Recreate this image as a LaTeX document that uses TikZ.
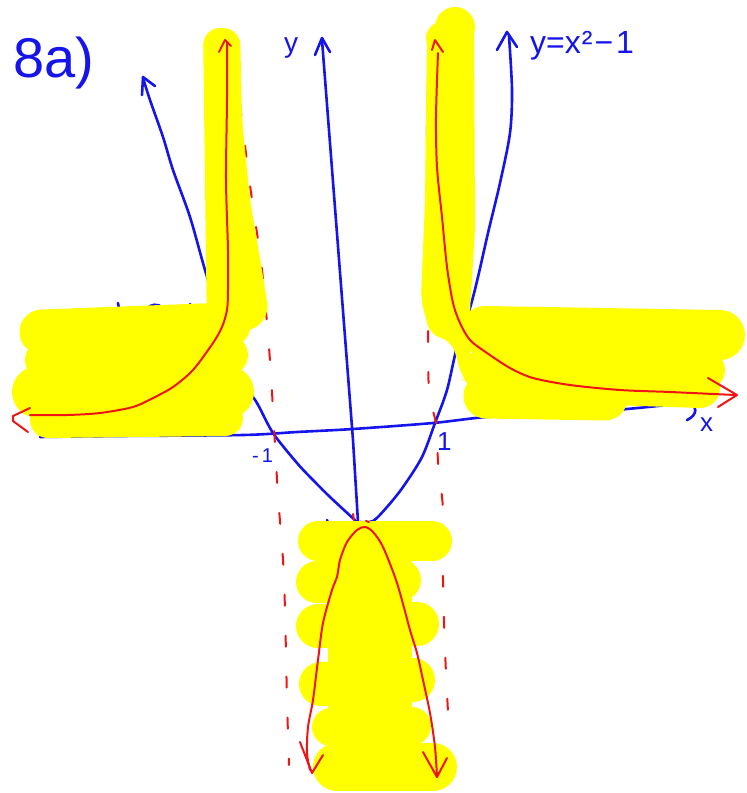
\documentclass[tikz,border=0pt]{standalone}
\usepackage{fontspec}
\setmainfont{Liberation Sans}
\definecolor{penblue}{RGB}{20,20,235}
\definecolor{penred}{RGB}{240,20,20}
\definecolor{hlyellow}{RGB}{255,255,0}
\tikzset{
  blueline/.style={draw=penblue, line width=2.6pt, line cap=round, line join=round},
  redline/.style={draw=penred, line width=2pt, line cap=round, line join=round},
  reddash/.style={redline, dash pattern=on 11pt off 30pt},
  hl/.style={draw=hlyellow, line cap=round, line join=round},
  hlfill/.style={fill=hlyellow},
  bluetext/.style={text=penblue, inner sep=0pt, anchor=base west}
}
\begin{document}
\begin{tikzpicture}[x=1pt,y=-1pt]
\useasboundingbox (0,0) rectangle (747,793);
\fill[white] (0,0) rectangle (747,793);

% ---------- blue: axes and parabola ----------
% left branch of y = x^2 - 1
\draw[blueline] plot[smooth] coordinates {(143,78) (150,100) (163,137) (173,170) (190,217) (205,270) (222,325) (240,377) (257,403) (273,433) (297,463) (313,480) (330,497) (357,522)};
\draw[blueline] (142,95) -- (143,77) -- (155,86);
% right branch
\draw[blueline] plot[smooth] coordinates {(360,522) (373,521) (387,507) (403,487) (422,457) (435,423) (447,390) (457,347) (470,308) (478,277) (488,233) (500,183) (510,133) (512,90) (509,36)};
\draw[blueline] (497,50) -- (507,32) -- (517,47);
% y axis
\draw[blueline] (322,40) -- (353,440) -- (358,522);
\draw[blueline] (315,55) -- (322,38) -- (330,52);
% x axis
\draw[blueline] plot[smooth] coordinates {(40,437) (120,436) (243,435) (297,432) (353,429) (433,423) (487,417) (553,415) (627,409) (687,403)};
\draw[blueline] (687,403) .. controls (698,405) and (698,415) .. (687,420);
% small blue marks above the left block
\draw[blueline] (118,303) -- (119,309);
\draw[blueline] (147,309) .. controls (150,304) and (158,303) .. (163,308);
\draw[blueline] (190,304) -- (192,310);
\draw[blueline] (327,520) -- (328,523);

% ---------- red dashed asymptotes ----------
\draw[reddash] plot[smooth] coordinates {(240,105) (250,185) (262,270) (270,360) (273,410) (278,495) (283,560) (285,610) (287,700) (289,765)};
\draw[reddash] plot[smooth] coordinates {(428,85) (427,125) (427,170) (428,250) (428,320) (429,390) (437,428) (438,462) (443,510) (443,580) (445,650) (448,712)};

% ---------- yellow highlighter ----------
% left vertical
\fill[hlfill, rounded corners=17pt] (203,28) -- (240,28) -- (242,120) -- (250,200) -- (262,270) -- (270,320) -- (240,335) -- (207,335) -- cycle;
% left horizontal block
\fill[hlfill] (40,318) rectangle (240,430);
\draw[hl, line width=45pt] (42,332) -- (228,325);
\draw[hl, line width=40pt] (45,360) -- (228,355);
\draw[hl, line width=52pt] (38,392) -- (228,392);
\draw[hl, line width=36pt] (48,420) -- (225,418);
% right vertical
\fill[hlfill] (455,27) circle (20);
\fill[hlfill] (442,38) circle (16);
\fill[hlfill, rounded corners=10pt] (427,35) -- (474,25) -- (475,230) -- (470,310) -- (470,380) -- (463,380) -- (452,342) -- (430,334) -- (421,300) -- (425,200) -- cycle;
% right horizontal block
\fill[hlfill] (480,320) rectangle (700,400);
\draw[hl, line width=50pt] (485,331) -- (720,335);
\draw[hl, line width=40pt] (482,370) -- (705,370);
\draw[hl, line width=45pt] (486,396) -- (605,398);
\draw[hl, line width=40pt] (612,385) -- (700,388);
% bottom block
\fill[hlfill] (328,540) rectangle (412,770);
\draw[hl, line width=40pt] (318,541) -- (432,541);
\draw[hl, line width=42pt] (317,582) -- (400,580);
\draw[hl, line width=44pt] (318,626) -- (417,624);
\draw[hl, line width=44pt] (321,684) -- (413,680);
\draw[hl, line width=38pt] (331,727) -- (412,726);
\draw[hl, line width=48pt] (337,767) -- (433,767);

% ---------- red curves ----------
\draw[redline] plot[smooth] coordinates {(227,42) (227,100) (226,180) (228,250) (228,290) (227,310) (222,327) (213,343) (193,370) (173,387) (153,398) (133,407) (100,413) (67,415) (30,415)};
\draw[redline] (219,52) -- (225,40) -- (231,46);
\draw[redline] (30,408) -- (13,416) -- (13,421) -- (28,432);

\draw[redline] plot[smooth] coordinates {(438,53) (436,117) (437,167) (442,217) (447,267) (453,303) (460,323) (470,340) (487,353) (510,368) (533,378) (570,385) (620,390) (670,392) (735,395)};
\draw[redline] (432,50) -- (435,40) -- (443,52);
\draw[redline] (708,378) -- (737,395) -- (718,407);

\draw[redline] plot[smooth] coordinates {(310,770) (307,753) (308,727) (313,700) (318,660) (323,623) (332,590) (337,577) (340,560) (347,542) (357,530) (365,527) (373,532) (383,547) (397,583) (410,630) (417,653) (423,680) (430,713) (435,747) (437,777)};
\draw[redline] (300,742) -- (312,773) -- (323,755);
\draw[redline] (423,752) -- (437,777) -- (447,758);
\draw[redline] (353,514) -- (354,520);
\draw[redline] (366,521) -- (369,522);

% ---------- labels ----------
\node[bluetext, font=\fontsize{56}{56}\selectfont] (title) at (13,77) {8a)};
\node[bluetext, font=\fontsize{32}{32}\selectfont] (eq) at (530,53) {y=x\kern1pt²\kern2pt−\kern3pt1};
\node[bluetext, font=\fontsize{28}{28}\selectfont] (ylab) at (284,52) {y};
\node[bluetext, font=\fontsize{26}{26}\selectfont] (xlab) at (700,431) {x};
\node[bluetext, font=\fontsize{20}{20}\selectfont] (mlab) at (252,462) {-\kern3pt1};
\node[bluetext, font=\fontsize{26}{26}\selectfont] (plab) at (437,450) {1};
\end{tikzpicture}
\end{document}
